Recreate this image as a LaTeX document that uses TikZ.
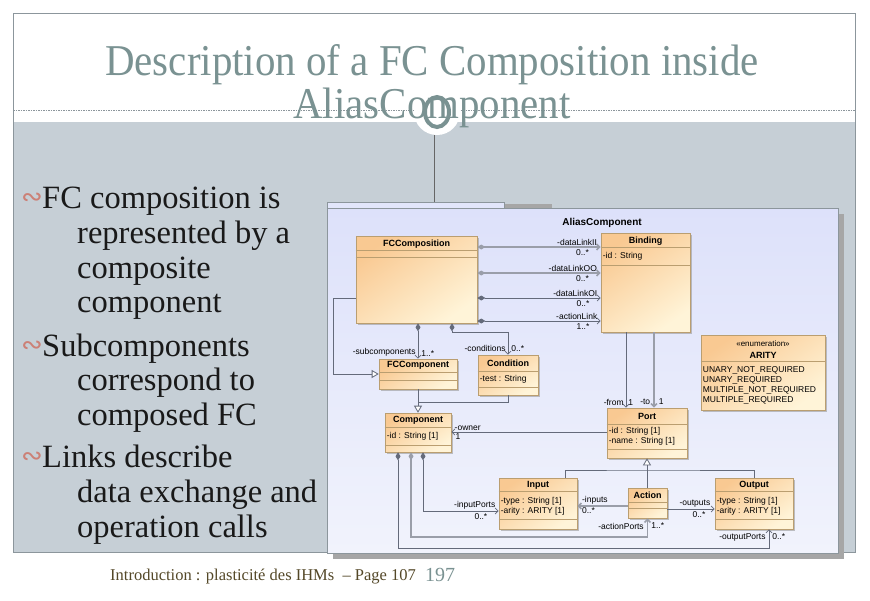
\documentclass[tikz,border=0pt]{standalone}
\usepackage{fontspec}
\setmainfont{Liberation Serif}
\setsansfont{Liberation Sans}
\newfontfamily\symbolfont{DejaVu Sans}
\usetikzlibrary{arrows.meta, shadows, positioning}
\definecolor{slidegray}{RGB}{198,207,214}
\definecolor{titleteal}{RGB}{122,146,146}
\definecolor{bulletred}{RGB}{204,128,118}
\definecolor{framegray}{RGB}{140,150,156}
\definecolor{diagtop}{RGB}{221,225,250}
\definecolor{diagbot}{RGB}{241,243,252}
\definecolor{clstop}{RGB}{249,201,146}
\definecolor{clsbot}{RGB}{255,244,216}
\definecolor{clsborder}{RGB}{186,158,112}
\definecolor{linkgray}{RGB}{100,106,122}
\definecolor{footerbrown}{RGB}{84,72,40}
\tikzset{
  umlbox/.style={draw=clsborder, line width=0.6pt, top color=clstop, bottom color=clsbot, shading angle=35,
    drop shadow={shadow xshift=2pt, shadow yshift=-2pt, fill=black!40, opacity=0.6}, inner sep=0pt},
  clsname/.style={font=\sffamily\bfseries\fontsize{9}{10}\selectfont, inner sep=0pt},
  clsattr/.style={font=\sffamily\fontsize{8.5}{10}\selectfont, inner sep=0pt, anchor=west},
  compline/.style={draw=clsborder, line width=0.6pt},
  linkline/.style={draw=linkgray, line width=0.8pt},
  assoc/.style={linkline, -{Straight Barb[length=3pt,width=6pt]}},
  comp/.style={linkline, {Diamond[length=8pt,width=5pt]}-{Straight Barb[length=3pt,width=6pt]}},
  gen/.style={linkline, -{Triangle[open,length=7pt,width=8pt,fill=white]}},
  heavy/.style={line width=1.6pt, draw=linkgray!65},
  slim/.style={},
  lbl/.style={font=\sffamily\fontsize{8.5}{10}\selectfont, inner sep=1pt},
  bullettext/.style={font=\fontsize{32.5}{34}\selectfont, inner sep=0pt, anchor=base west, text=black!90},
  bulletmark/.style={font=\symbolfont\fontsize{26}{26}\selectfont, text=bulletred, inner sep=0pt},
  titletext/.style={font=\fontsize{44}{46}\selectfont, text=titleteal, inner sep=0pt, anchor=base},
}
% Klasse: Name, Mitte x, Mitte y, Breite, Hoehe
\newcommand{\umlclass}[5]{\node[umlbox, minimum width=#4pt, minimum height=#5pt] (#1) at (#2,#3) {};}
\begin{document}
\begin{tikzpicture}[x=1pt, y=-1pt, >=latex]
\useasboundingbox (0,0) rectangle (870,600);
% Folie
\fill[white] (0,0) rectangle (870,600);
\fill[slidegray] (13,122) rectangle (855,552);
\draw[framegray, line width=0.6pt] (13,13) rectangle (855,552);
\draw[framegray, line width=0.5pt, dash pattern=on 1.5pt off 1pt] (13,110) -- (855,110);
\fill[white] (437,112) circle (23pt);
\draw[black!60, line width=0.6pt] (434,135) -- (434,202);
% Titel
\node[titletext] (title1) at (432,75) {\scalebox{0.93}[1]{Description of a FC Composition inside}};
\node[titletext] (title2) at (432,118) {\scalebox{0.93}[1]{AliasComponent}};
\draw[titleteal, line width=4pt] (437,112) ellipse (12pt and 15pt);
% Aufzaehlung
\foreach \y/\txt [count=\i] in {208/FC composition is, 356/Subcomponents, 467/Links describe}{
  \node[bullettext] (item\i) at (42,\y) {\txt};
  \node[bulletmark] (mark\i) at (32,\y-9) {∾};
}
\foreach \y/\txt [count=\i] in {243/represented by a, 278/composite, 312/component, 390/correspond to,
  425/composed FC, 502/data exchange and, 537/operation calls}
  \node[bullettext] (cont\i) at (77,\y) {\txt};
% Fusszeile
\node[font=\fontsize{16.5}{18}\selectfont, text=footerbrown, anchor=base west, inner sep=0pt] (footer) at (110,580) {Introduction : plasticité des IHMs \ – Page 107};
\node[font=\fontsize{20}{20}\selectfont, text=titleteal, anchor=base west, inner sep=0pt] (pagenum) at (425,581) {197};
% Diagrammrahmen
\fill[black!35] (504,204) rectangle (552,209);
\fill[black!35] (333,214) rectangle (844,559);
\shade[top color=diagtop, bottom color=diagbot, draw=framegray, line width=0.5pt] (327,208) rectangle (838,553);
\draw[framegray, fill=diagtop!85!white, line width=0.5pt] (327,202) rectangle (504,208);
\node[font=\sffamily\bfseries\fontsize{10}{12}\selectfont, inner sep=0pt] (diagtitle) at (602,223) {AliasComponent};
% Klassen
\umlclass{fccomposition}{416.5}{279.5}{121}{87}
\umlclass{binding}{645.5}{282.5}{89}{99}
\umlclass{arity}{763}{372.5}{124}{75}
\umlclass{fccomponent}{418}{374}{78}{30}
\umlclass{condition}{508}{375}{60}{40}
\umlclass{component}{418}{432.5}{66}{39}
\umlclass{port}{647}{433}{80}{50}
\umlclass{input}{538}{503.5}{78}{51}
\umlclass{action}{647.5}{503}{39}{30}
\umlclass{output}{754}{503.5}{78}{51}
\foreach \cls/\off in {fccomposition/15, fccomposition/22, binding/15, binding/33, arity/27,
  fccomponent/14, fccomponent/22, condition/17, condition/33, component/15, component/33,
  port/17, port/42, input/14, input/42, action/15, action/21, output/14, output/42}
  \draw[compline] ([yshift=-\off pt]\cls.north west) -- ([yshift=-\off pt]\cls.north east);
\foreach \cls/\name/\off in {fccomposition/FCComposition/8, binding/Binding/8, arity/ARITY/21,
  fccomponent/FCComponent/7, condition/Condition/9, component/Component/8, port/Port/9,
  input/Input/8, action/Action/8, output/Output/8}
  \node[clsname] (\cls-name) at ([yshift=-\off pt]\cls.north) {\name};
\node[lbl, inner sep=0pt, font=\sffamily\fontsize{8}{9}\selectfont] (arity-stereo) at ([yshift=-9pt]arity.north) {\textless\textless enumeration\textgreater\textgreater};
\foreach \cls/\off/\txt [count=\i] in {binding/24/-id : String, condition/25/-test : String,
  component/24/-id : String [1], port/24/-id : String [1], port/34/-name : String [1],
  input/24/-type : String [1], input/34/-arity : ARITY [1], output/24/-type : String [1],
  output/34/-arity : ARITY [1], arity/36/UNARY\_NOT\_REQUIRED, arity/46/UNARY\_REQUIRED,
  arity/56/MULTIPLE\_NOT\_REQUIRED, arity/66/MULTIPLE\_REQUIRED}
  \node[clsattr] (attr\i) at ([xshift=2pt, yshift=-\off pt]\cls.north west) {\txt};
% Assoziationen FCComposition -> Binding
\foreach \y/\role/\mult/\kind in {247/-dataLinkII/0..*/heavy, 273/-dataLinkOO/0..*/heavy,
  298/-dataLinkOI/0..*/slim, 321/-actionLink/1..*/slim}
  \draw[comp, \kind] (fccomposition.east |- 0,\y) -- (binding.west |- 0,\y)
    node[lbl, pos=1, anchor=south east, xshift=-2pt] {\role}
    node[lbl, pos=1, anchor=north east, xshift=-10pt, yshift=-1pt] {\mult};
\draw[comp] (fccomposition.south -| fccomponent.north) -- (fccomponent.north)
  node[lbl, pos=1, anchor=south east, xshift=-1pt, yshift=1pt] {-subcomponents}
  node[lbl, pos=1, anchor=south west, xshift=2pt, yshift=1pt] {1..*};
\draw[comp] (fccomposition.south -| 452,0) |- (condition.north |- 0,332) -- (condition.north)
  node[lbl, pos=1, anchor=south east, xshift=-1pt, yshift=2pt] {-conditions}
  node[lbl, pos=1, anchor=south west, xshift=2pt, yshift=2pt] {0..*};
% Generalisierungen
\draw[gen] (fccomposition.west |- 0,298) -| ([xshift=-45pt]fccomponent.west) |- (fccomponent.west);
\coordinate (compjoin) at (418,402);
\draw[linkline] (fccomponent.south) -- (compjoin);
\draw[gen] (condition.south) |- (compjoin) -- (component.north);
\coordinate (portjoin) at (647,470);
\draw[gen] (action.north -| port.south) -- (port.south);
\draw[linkline] ([xshift=27pt]input.north) |- (portjoin) -| (output.north);
% Port
\draw[assoc] (port.west |- 0,432) -- (component.east |- 0,432)
  node[lbl, pos=1, anchor=south west, xshift=2pt] {-owner}
  node[lbl, pos=1, anchor=north west, xshift=3pt] {1};
\draw[assoc] (binding.south -| 626,0) -- (port.north -| 626,0)
  node[lbl, pos=1, anchor=south east, xshift=-1pt, yshift=1pt] {-from}
  node[lbl, pos=1, anchor=south west, xshift=1pt, yshift=1pt] {1};
\draw[assoc, heavy] (binding.south -| 654,0) -- (port.north -| 654,0)
  node[lbl, pos=1, anchor=south east, xshift=-2pt, yshift=1pt] {-to}
  node[lbl, pos=1, anchor=south west, xshift=3pt, yshift=1pt] {1};
% Action
\draw[assoc, heavy] (action.west |- 0,506) -- (input.east |- 0,506)
  node[lbl, pos=1, anchor=south west, xshift=3pt] {-inputs}
  node[lbl, pos=1, anchor=north west, xshift=3pt] {0..*};
\draw[assoc] (action.east |- 0,509) -- (output.west |- 0,509)
  node[lbl, pos=1, anchor=south east, xshift=-3pt] {-outputs}
  node[lbl, pos=1, anchor=north east, xshift=-8pt, yshift=-1pt] {0..*};
% Ports der Component
\draw[comp] (component.south -| 423,0) |- (input.west |- 0,511)
  node[lbl, pos=1, anchor=south east, xshift=-2pt] {-inputPorts}
  node[lbl, pos=1, anchor=north east, xshift=-10pt, yshift=-1pt] {0..*};
\draw[comp, heavy] (component.south -| 411,0) |- (action.south |- 0,537) -- (action.south)
  node[lbl, pos=1, anchor=north east, xshift=-2pt, yshift=-3pt] {-actionPorts}
  node[lbl, pos=1, anchor=north west, xshift=2pt, yshift=-3pt] {1..*};
\coordinate (outport) at ([xshift=15pt]output.south);
\draw[comp] (component.south -| 398,0) |- (outport |- 0,548) -- (outport)
  node[lbl, pos=1, anchor=north east, xshift=-2pt, yshift=-3pt] {-outputPorts}
  node[lbl, pos=1, anchor=north west, xshift=2pt, yshift=-3pt] {0..*};
\end{tikzpicture}
\end{document}
